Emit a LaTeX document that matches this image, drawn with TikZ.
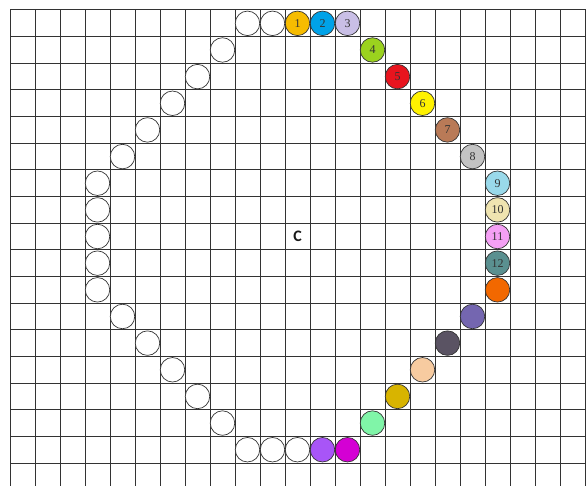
\documentclass[tikz,border=0pt]{standalone}
\usepackage{fontspec}
\setmainfont{Liberation Serif}
\newfontfamily\centrefont{Carlito}
\usetikzlibrary{positioning}
\definecolor{cOne}{HTML}{F7BC00}
\definecolor{cTwo}{HTML}{00A2E8}
\definecolor{cThree}{HTML}{C9BFE6}
\definecolor{cFour}{HTML}{9BD21E}
\definecolor{cFive}{HTML}{E8141E}
\definecolor{cSix}{HTML}{FFF200}
\definecolor{cSeven}{HTML}{B97A57}
\definecolor{cEight}{HTML}{C3C3C3}
\definecolor{cNine}{HTML}{99D9EA}
\definecolor{cTen}{HTML}{EFE4B0}
\definecolor{cEleven}{HTML}{F5A0F5}
\definecolor{cTwelve}{HTML}{5A9090}
\definecolor{cOrange}{HTML}{F26800}
\definecolor{cSlate}{HTML}{7466B0}
\definecolor{cDark}{HTML}{5A5363}
\definecolor{cPeach}{HTML}{F7CBA0}
\definecolor{cGold}{HTML}{D8B400}
\definecolor{cMint}{HTML}{80F5A8}
\definecolor{cMagenta}{HTML}{D400D4}
\definecolor{cPurple}{HTML}{A855F7}

\begin{document}
\begin{tikzpicture}[
			x=1pt, y=-1pt,
			gridline/.style={draw=black!80, line width=1pt},
			ball/.style={circle, draw=black!80, line width=0.7pt, minimum size=24.5pt, inner sep=0pt, text=black!80, font=\fontsize{12}{12}\selectfont},
			centre/.style={font=\centrefont\bfseries\fontsize{16}{16}\selectfont, text=black!90}
			]
			\useasboundingbox (0,0) rectangle (586,486);
			
			% Grid
			\foreach \k in {0,...,23}
				\draw[gridline] (10+25*\k,10) -- (10+25*\k,486);
			\foreach \k in {0,...,17}
				\draw[gridline] (10,10+26.65*\k) -- (586,10+26.65*\k);
			
			% Centre
			\node[centre] (C) at (297.5,236.5) {C};
			
			% Ring of balls
			\foreach \c/\r/\col/\txt [count=\i] in {
				9/0/white/{}, 10/0/white/{}, 11/0/cOne/1, 12/0/cTwo/2, 13/0/cThree/3,
				14/1/cFour/4, 15/2/cFive/5, 16/3/cSix/6, 17/4/cSeven/7, 18/5/cEight/8,
				19/6/cNine/9, 19/7/cTen/10, 19/8/cEleven/11, 19/9/cTwelve/12, 19/10/cOrange/{},
				18/11/cSlate/{}, 17/12/cDark/{}, 16/13/cPeach/{}, 15/14/cGold/{}, 14/15/cMint/{},
				13/16/cMagenta/{}, 12/16/cPurple/{}, 11/16/white/{}, 10/16/white/{}, 9/16/white/{},
				8/15/white/{}, 7/14/white/{}, 6/13/white/{}, 5/12/white/{}, 4/11/white/{},
				3/10/white/{}, 3/9/white/{}, 3/8/white/{}, 3/7/white/{}, 3/6/white/{},
				4/5/white/{}, 5/4/white/{}, 6/3/white/{}, 7/2/white/{}, 8/1/white/{}}
				\node[ball, fill=\col] (b\i) at (22.5+25*\c, 23.33+26.65*\r) {\txt};
			
		\end{tikzpicture}
\end{document}
